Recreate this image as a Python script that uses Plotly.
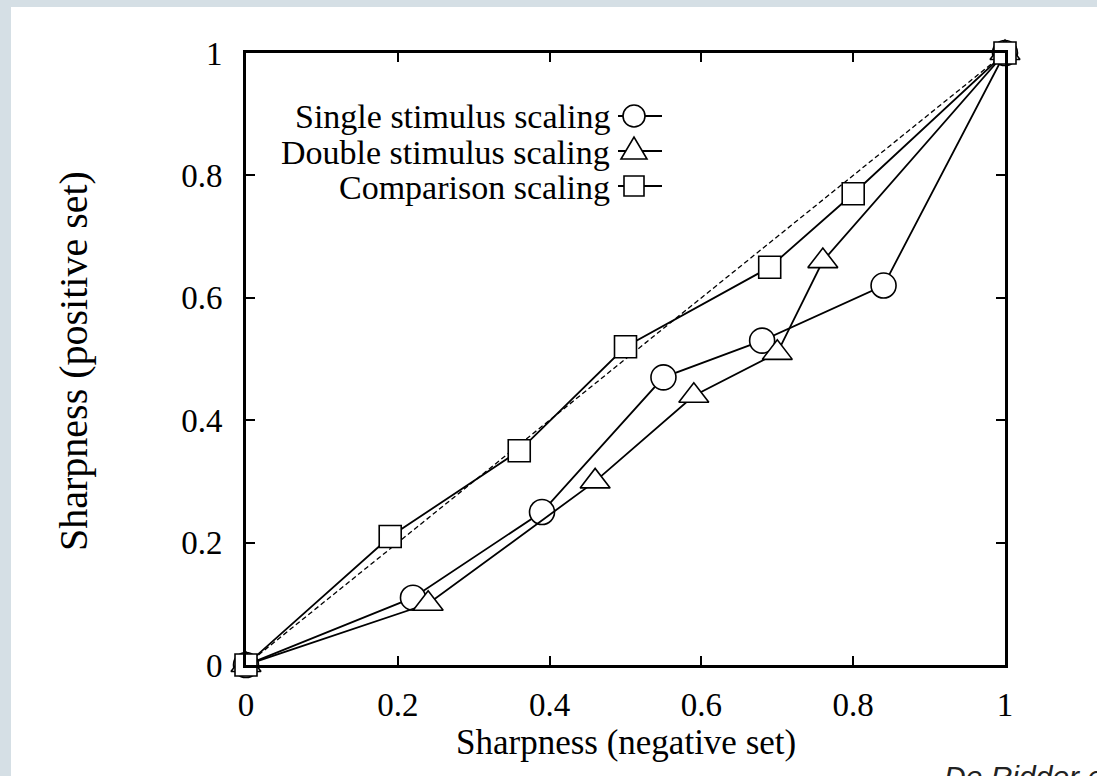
import plotly.graph_objects as go

# ---------------- data ----------------
single_x = [0.0, 0.22, 0.39, 0.55, 0.68, 0.84, 1.0]
single_y = [0.0, 0.11, 0.25, 0.47, 0.53, 0.62, 1.0]

double_x = [0.0, 0.24, 0.46, 0.59, 0.70, 0.76, 1.0]
double_y = [0.0, 0.10, 0.30, 0.44, 0.51, 0.66, 1.0]

comp_x = [0.0, 0.19, 0.36, 0.50, 0.69, 0.80, 1.0]
comp_y = [0.0, 0.21, 0.35, 0.52, 0.65, 0.77, 1.0]

diag_x = [0.0, 1.0]
diag_y = [0.0, 1.0]

tick_vals = [0, 0.2, 0.4, 0.6, 0.8, 1]
tick_text = ["0", "0.2", "0.4", "0.6", "0.8", "1"]

legend_names = ["Single stimulus scaling", "Double stimulus scaling", "Comparison scaling"]

# ---------------- layout geometry ----------------
W, H = 1097, 776
L, R, T, B = 246, 1005, 53, 665


def px(x):
    return (x - L) / (R - L)


def py(y):
    return (B - y) / (B - T)


SERIF = "Liberation Serif, Times New Roman, serif"
BLACK = "#000000"

fig = go.Figure()

fig.add_trace(go.Scatter(x=diag_x, y=diag_y, mode="lines",
                         line=dict(color=BLACK, width=1.3, dash="5px,3px"),
                         hoverinfo="skip", cliponaxis=False))

common_line = dict(color=BLACK, width=1.8)
fig.add_trace(go.Scatter(x=single_x, y=single_y, mode="lines+markers", line=common_line,
                         marker=dict(symbol="circle", size=25, color="white",
                                     line=dict(color=BLACK, width=1.6)),
                         cliponaxis=False, name=legend_names[0]))
fig.add_trace(go.Scatter(x=double_x, y=double_y, mode="lines+markers", line=common_line,
                         marker=dict(symbol="triangle-up", size=26, color="white",
                                     line=dict(color=BLACK, width=1.6)),
                         cliponaxis=False, name=legend_names[1]))
fig.add_trace(go.Scatter(x=comp_x, y=comp_y, mode="lines+markers", line=common_line,
                         marker=dict(symbol="square", size=22, color="white",
                                     line=dict(color=BLACK, width=1.6)),
                         cliponaxis=False, name=legend_names[2]))

axis_common = dict(range=[0, 1], showgrid=False, zeroline=False,
                   showline=True, linecolor=BLACK, linewidth=3, mirror="ticks",
                   ticks="inside", ticklen=9, tickwidth=2, tickcolor=BLACK,
                   tickvals=tick_vals, ticktext=tick_text,
                   tickfont=dict(family=SERIF, size=33, color=BLACK))

fig.update_xaxes(**axis_common, ticklabelstandoff=8)
fig.update_yaxes(**axis_common, ticklabelstandoff=14)

shapes = []
# white panel over light grey-blue page
shapes.append(dict(type="rect", xref="paper", yref="paper", layer="below",
                   x0=px(11), x1=px(W + 10), y0=py(7), y1=py(H + 10),
                   fillcolor="white", line=dict(width=0)))

annotations = []
# axis titles
annotations.append(dict(text="Sharpness (negative set)", xref="paper", yref="paper",
                        x=px(625.5), y=py(742), xanchor="center", yanchor="middle",
                        showarrow=False, font=dict(family=SERIF, size=35, color=BLACK)))
annotations.append(dict(text="Sharpness (positive set)", xref="paper", yref="paper",
                        x=px(73), y=py(361), xanchor="center", yanchor="middle",
                        textangle=-90, showarrow=False,
                        font=dict(family=SERIF, size=40, color=BLACK)))

# custom legend (text, then line sample with symbol)
rows = [116, 151, 186]
for name, ry, kind in zip(legend_names, rows, ["circle", "triangle", "square"]):
    annotations.append(dict(text=name, xref="paper", yref="paper",
                            x=px(612), y=py(ry + 1), xanchor="right", yanchor="middle",
                            showarrow=False, font=dict(family=SERIF, size=34, color=BLACK)))
    shapes.append(dict(type="line", xref="paper", yref="paper",
                       x0=px(618), x1=px(662), y0=py(ry), y1=py(ry),
                       line=dict(color=BLACK, width=1.8)))
    cx = 634
    if kind == "circle":
        shapes.append(dict(type="circle", xref="paper", yref="paper",
                           x0=px(cx - 11), x1=px(cx + 11), y0=py(ry + 11), y1=py(ry - 11),
                           fillcolor="white", line=dict(color=BLACK, width=1.6)))
    elif kind == "square":
        shapes.append(dict(type="rect", xref="paper", yref="paper",
                           x0=px(cx - 10), x1=px(cx + 10), y0=py(ry + 10), y1=py(ry - 10),
                           fillcolor="white", line=dict(color=BLACK, width=1.6)))
    else:
        path = "M {:.5f},{:.5f} L {:.5f},{:.5f} L {:.5f},{:.5f} Z".format(
            px(cx - 13), py(ry + 8), px(cx + 13), py(ry + 8), px(cx), py(ry - 14))
        shapes.append(dict(type="path", xref="paper", yref="paper", path=path,
                           fillcolor="white", line=dict(color=BLACK, width=1.6)))

# source credit, cut off by the page edge
annotations.append(dict(text="<i>De Ridder et al.</i>", xref="paper", yref="paper",
                        x=px(942), y=py(758), xanchor="left", yanchor="top",
                        showarrow=False,
                        font=dict(family="Liberation Sans, Arial, sans-serif", size=30,
                                  color="#222222")))

fig.update_layout(width=W, height=H,
                  margin=dict(l=L, r=W - R, t=T, b=H - B, pad=0),
                  paper_bgcolor="#d5dfe5", plot_bgcolor="white",
                  showlegend=False, hovermode=False,
                  shapes=shapes, annotations=annotations)

fig.write_html("out.html",
               config={"displayModeBar": False, "staticPlot": True},
               post_script="document.body.style.margin='0';"
                           "document.body.style.overflow='hidden';")
